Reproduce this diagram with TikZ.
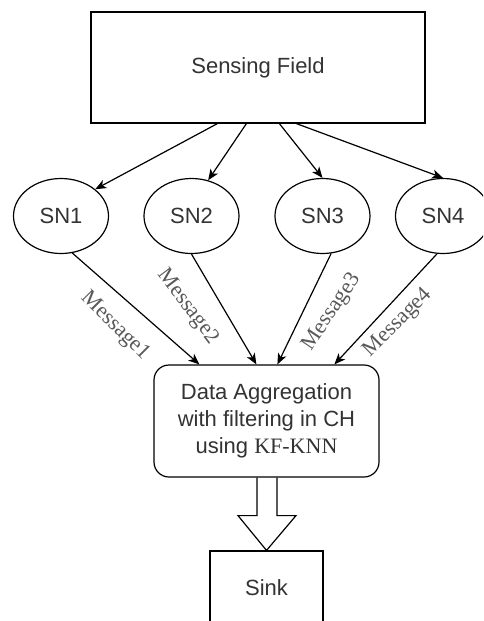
\documentclass[tikz,border=0pt]{standalone}
\usepackage{fontspec}
\setmainfont{Liberation Sans}
\newfontfamily\serifmsg{Liberation Serif}
\usetikzlibrary{arrows.meta,shapes.geometric,calc}
\begin{document}
\begin{tikzpicture}[x=1pt,y=-1pt,line width=1.2pt,
  >={Stealth[length=11pt,width=9pt,inset=3pt]},
  txt/.style={text=black!80,font=\fontsize{22}{27}\selectfont},
  msg/.style={text=black!65,font=\serifmsg\fontsize{22}{24}\selectfont,inner sep=0pt},
  snnode/.style={ellipse,draw,minimum width=95pt,minimum height=75pt,inner sep=0pt,txt},
  conn/.style={->}]
\useasboundingbox (0,0) rectangle (483,621);
\clip (0,0) rectangle (483,621);
\fill[white] (0,0) rectangle (483,621);
\node[draw,minimum width=334pt,minimum height=111pt,txt] (sf) at (258,67.5) {Sensing Field};
\node[snnode] (sn1) at (61,216) {SN1};
\node[snnode] (sn2) at (191.5,216) {SN2};
\node[snnode] (sn3) at (322.5,216) {SN3};
\node[snnode] (sn4) at (443,216) {SN4};
\node[draw,rounded corners=15pt,minimum width=225pt,minimum height=112pt,txt,align=center] (ag) at (266.5,421)
  {Data Aggregation\\with filtering in CH\\using {\serifmsg KF-KNN}};
\node[draw,minimum width=113pt,minimum height=74pt,txt] (sink) at (266.5,588) {Sink};
% top arrows
\draw[conn] ($(sf.south west)+(127,0)$) -- (sn1.38);
\draw[conn] ($(sf.south west)+(156,0)$) -- (sn2.65);
\draw[conn] ($(sf.south west)+(189,0)$) -- (sn3.north);
\draw[conn] ($(sf.south west)+(206,0)$) -- (sn4.north);
% message arrows
\draw[conn] (sn1.-73) -- ($(ag.north west)+(46,0)$);
\draw[conn] (sn2.south) -- ($(ag.north west)+(103,0)$);
\draw[conn] (sn3.-77) -- ($(ag.north west)+(124,0)$);
\draw[conn] (sn4.-99) -- ($(ag.north west)+(181,0)$);
\node[msg,rotate=-45] (m1) at (115,326) {Message1};
\node[msg,rotate=-53] (m2) at (188,307) {Message2};
\node[msg,rotate=56] (m3) at (332,312) {Message3};
\node[msg,rotate=45] (m4) at (398,323) {Message4};
% hollow arrow
\draw[line join=miter] ($(ag.south)+(-9.5,0)$) -- ++(0,38) -- ++(-19,0) -- (sink.north) -- ($(ag.south)+(29.5,38)$) -- ++(-19,0) -- ($(ag.south)+(10.5,0)$);
\end{tikzpicture}
\end{document}
